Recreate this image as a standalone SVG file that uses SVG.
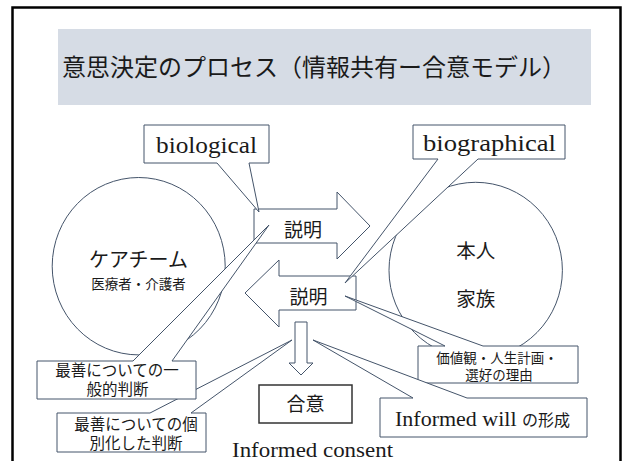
<svg xmlns="http://www.w3.org/2000/svg" width="622" height="461" viewBox="0 0 622 461">
<style>
.sh{fill:#ffffff;stroke:#44546A;stroke-width:1;stroke-linejoin:miter}
.jp{font-family:"Noto Sans CJK JP","Noto Sans",sans-serif;fill:#1a1a1a}
.en{font-family:"Liberation Serif","Times New Roman",serif;fill:#1a1a1a}
.mid{text-anchor:middle}
</style>
<rect x="0" y="0" width="622" height="461" fill="#ffffff"/>
<rect x="12.5" y="7.5" width="608" height="470" fill="none" stroke="#000000" stroke-width="2.5"/>

<g id="title">
  <rect x="58" y="29" width="533" height="76" fill="#D6DCE5"/>
  <text class="jp" x="62" y="76" font-size="24">意思決定のプロセス（情報共有ー合意モデル）</text>
</g>

<g id="care-team">
  <ellipse class="sh" cx="138.7" cy="266.2" rx="86.5" ry="88.7"/>
  <text class="jp mid" x="138.5" y="267" font-size="20">ケアチーム</text>
  <text class="jp mid" x="138.5" y="289" font-size="13.5">医療者・介護者</text>
</g>

<g id="patient-family">
  <ellipse class="sh" cx="475.7" cy="270.3" rx="86.7" ry="88"/>
  <text class="jp mid" x="475.7" y="258" font-size="19.5">本人</text>
  <text class="jp mid" x="475.7" y="306" font-size="19.5">家族</text>
</g>

<g id="explain-right">
  <path class="sh" d="M254,209 H337 V192 L370,226 L337,259 V243 H254 Z"/>
  <text class="jp mid" x="303" y="237" font-size="19">説明</text>
</g>

<g id="explain-left">
  <path class="sh" d="M356,276 H279 V260 L245,293 L279,327 V310 H356 Z"/>
  <text class="jp mid" x="308.5" y="304" font-size="19">説明</text>
</g>

<g id="down-arrow">
  <path class="sh" d="M295,322 H307 V363 H313 L301,375 L289,363 H295 Z"/>
</g>

<g id="agreement">
  <rect x="259" y="385" width="93" height="38" fill="#ffffff" stroke="#333333" stroke-width="1.5"/>
  <text class="jp mid" x="305.5" y="411" font-size="19">合意</text>
</g>

<g id="informed-consent">
  <text class="en" x="232" y="457" font-size="22" textLength="161" lengthAdjust="spacingAndGlyphs">Informed consent</text>
</g>

<g id="connectors"></g>

<g id="biological">
  <path class="sh" d="M144,125 H269 V163 H249 L259,212 L217,163 H144 Z"/>
  <text class="en mid" x="206.5" y="153" font-size="24" textLength="101" lengthAdjust="spacingAndGlyphs">biological</text>
</g>

<g id="biographical">
  <path class="sh" d="M413,125 H565 V159 H478 L345,283 L438,159 H413 Z"/>
  <text class="en mid" x="489.5" y="151" font-size="24" textLength="133" lengthAdjust="spacingAndGlyphs">biographical</text>
</g>

<g id="values">
  <path class="sh" d="M418,346 H445 L345,296 L483,346 H578 V383 H418 Z"/>
  <text class="jp mid" x="497" y="363" font-size="13.5">価値観・人生計画・</text>
  <text class="jp mid" x="499" y="380" font-size="13.5">選好の理由</text>
</g>

<g id="informed-will">
  <path class="sh" d="M380,398 H413 L313,340 L467,398 H587 V437 H380 Z"/>
  <text y="426"><tspan class="en" x="395" font-size="22">Informed will</tspan><tspan class="jp" x="522" font-size="16">の形成</tspan></text>
</g>

<g id="individual-judgement">
  <path class="sh" d="M57,413 H150 L292,340 L191,413 H206 V452 H57 Z"/>
  <text class="jp mid" x="136" y="430" font-size="15.5">最善についての個</text>
  <text class="jp mid" x="136" y="449" font-size="15.5">別化した判断</text>
</g>

<g id="general-judgement">
  <path class="sh" d="M37,361 H133 L269,225 L172,361 H196 V399 H37 Z"/>
  <text class="jp mid" x="117" y="376" font-size="15.5">最善についての一</text>
  <text class="jp mid" x="117.5" y="395" font-size="15.5">般的判断</text>
</g>
</svg>
